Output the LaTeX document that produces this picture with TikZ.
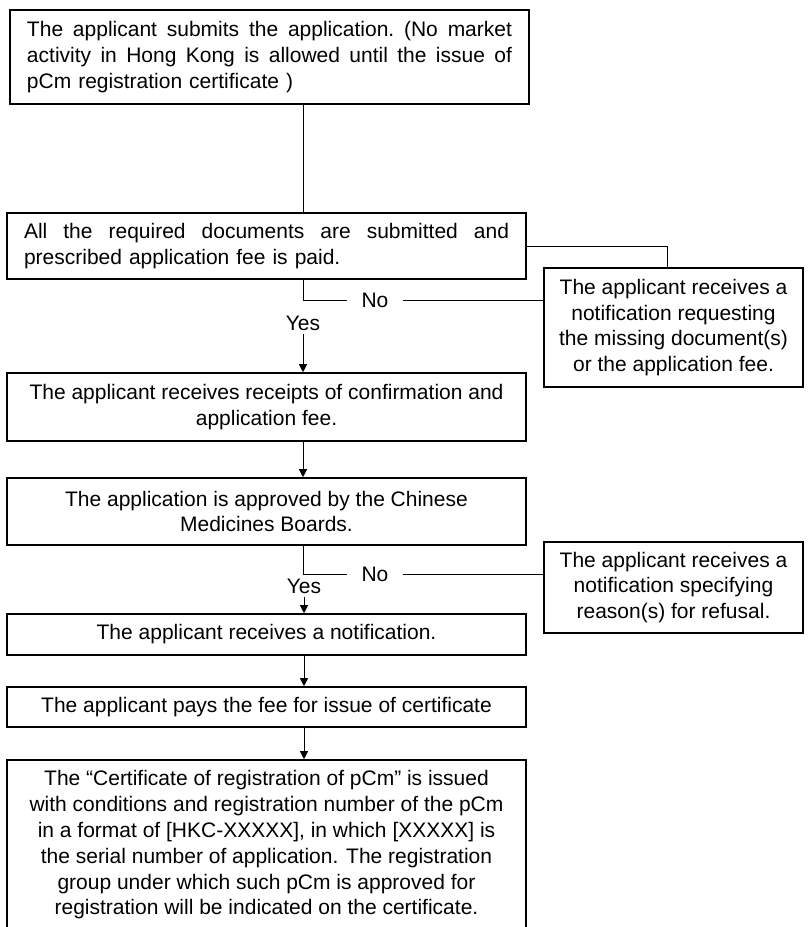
\documentclass[tikz,border=0pt]{standalone}
\usepackage{fontspec}
\setmainfont{Liberation Sans}
\usetikzlibrary{arrows.meta}
% a line set flush to both sides of a 485pt measure
\newcommand\fullline[1]{\leavevmode\hbox to 485pt{\spaceskip=0.278em plus 1fil\xspaceskip=0.278em plus 1fil\relax #1}}
\begin{document}
\begin{tikzpicture}[x=1pt,y=-1pt,
  txt/.style={font=\fontsize{21}{25.8}\selectfont},
  box/.style={txt, draw, line width=1.6pt, minimum width=519pt, inner sep=0pt, align=center},
  sidebox/.style={box, minimum width=259pt},
  lbl/.style={txt, inner sep=0pt},
  link/.style={line width=0.9pt},
  flow/.style={link, -{Triangle[length=8pt,width=8pt]}}]
\fill[white] (0,0) rectangle (808,927);
\useasboundingbox (0,0) rectangle (808,927);

% main column
\node[box, minimum height=94pt, text width=485pt, align=left] (b1) at (269.5,57)
  {\fullline{The applicant submits the application. (No market}\\
   \fullline{activity in Hong Kong is allowed until the issue of}\\
   pCm registration certificate )};
\node[box, minimum height=66pt, text width=485pt, align=left] (b2) at (266.5,246)
  {\fullline{All the required documents are submitted and}\\
   prescribed application fee is paid.};
\node[box, minimum height=68pt] (b3) at (266.5,407)
  {The applicant receives receipts of confirmation and\\application fee.};
\node[box, minimum height=67pt] (b4) at (266.5,511.5)
  {The application is approved by the Chinese\\Medicines Boards.};
\node[box, minimum height=41pt] (b5) at (266.5,634.5)
  {The applicant receives a notification.};
\node[box, minimum height=40pt] (b6) at (266.5,707)
  {The applicant pays the fee for issue of certificate};
\node[box, minimum height=170pt] (b7) at (266.5,845)
  {The “Certificate of registration of pCm” is issued\\
   with conditions and registration number of the pCm\\
   in a format of [HKC-XXXXX], in which [XXXXX] is\\
   the serial number of application. The registration\\
   group under which such pCm is approved for\\
   registration will be indicated on the certificate.};

% side boxes
\node[sidebox, minimum height=119pt] (r1) at (673.5,327.5)
  {The applicant receives a\\notification requesting\\the missing document(s)\\or the application fee.};
\node[sidebox, minimum height=91pt] (r2) at (673.5,587.5)
  {The applicant receives a\\notification specifying\\reason(s) for refusal.};

% branch labels
\coordinate (trunk) at (303,0);
\node[lbl, inner xsep=14pt] (no1) at (375,300) {No};
\node[lbl, inner ysep=3pt] (yes1) at (303,323) {Yes};
\node[lbl, inner xsep=14pt] (no2) at (375,574) {No};
\node[lbl, inner ysep=3pt] (yes2) at (304,586) {Yes};

% connectors
\draw[link] (b1.south -| trunk) -- (b2.north -| trunk);
\draw[link] (b2.east) -| ([xshift=-6pt]r1.north);
\draw[link] (b2.south -| trunk) |- (no1.west);
\draw[link] (no1.east) -- (no1.east -| r1.west);
\draw[flow] (yes1) -- (b3.north -| yes1);
\draw[flow] (b3.south -| trunk) -- (b4.north -| trunk);
\draw[link] (b4.south -| trunk) |- (no2.west);
\draw[link] (no2.east) -- (no2.east -| r2.west);
\draw[flow] (yes2) -- (b5.north -| yes2);
\draw[flow] (b5.south -| yes2) -- (b6.north -| yes2);
\draw[flow] (b6.south -| yes2) -- (b7.north -| yes2);
\end{tikzpicture}
\end{document}
